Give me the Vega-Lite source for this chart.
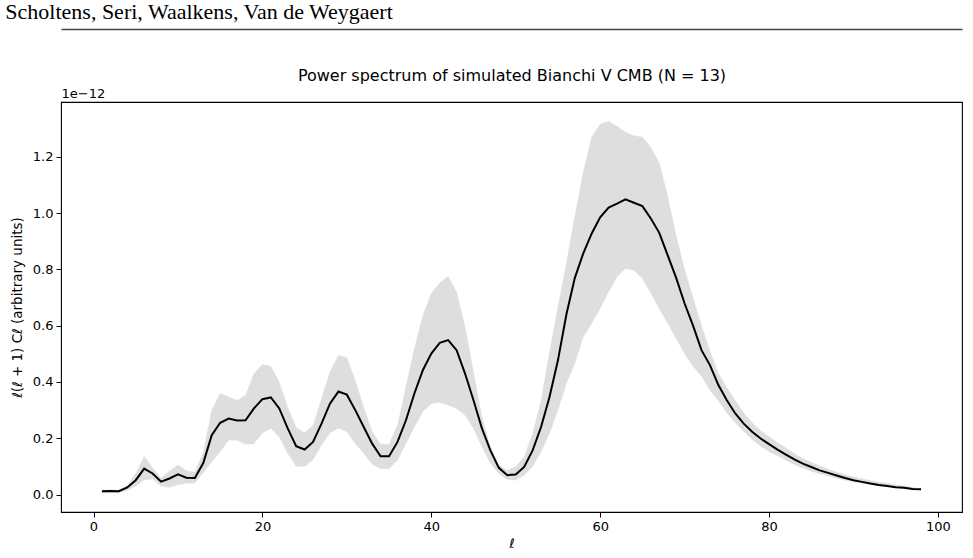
{
  "$schema": "https://vega.github.io/schema/vega-lite/v6.json",
  "width": 901,
  "height": 410,
  "autosize": {"type": "none"},
  "padding": {"left": 61, "top": 102, "right": 11, "bottom": 46},
  "background": "white",
  "config": {
    "view": {"stroke": "black", "strokeWidth": 1.1},
    "font": "DejaVu Sans",
    "axis": {"grid": false, "labelFont": "DejaVu Sans", "titleFont": "DejaVu Sans", "labelColor": "black", "titleColor": "black", "titleFontWeight": "normal"}
  },
  "title": {
    "text": "Scholtens, Seri, Waalkens, Van de Weygaert",
    "anchor": "start",
    "frame": "bounds",
    "font": "Liberation Serif",
    "fontSize": 22,
    "fontWeight": "normal",
    "color": "black",
    "offset": 5,
    "dx": -5
  },
  "data": {
    "values": [
      {"l": 1, "mean": 0.012, "lo": 0.006, "hi": 0.016},
      {"l": 2, "mean": 0.013, "lo": 0.007, "hi": 0.017},
      {"l": 3, "mean": 0.012, "lo": 0.006, "hi": 0.016},
      {"l": 4, "mean": 0.025, "lo": 0.014, "hi": 0.032},
      {"l": 5, "mean": 0.051, "lo": 0.030, "hi": 0.075},
      {"l": 6, "mean": 0.092, "lo": 0.052, "hi": 0.136},
      {"l": 7, "mean": 0.075, "lo": 0.055, "hi": 0.095},
      {"l": 8, "mean": 0.046, "lo": 0.030, "hi": 0.058},
      {"l": 9, "mean": 0.057, "lo": 0.025, "hi": 0.084},
      {"l": 10, "mean": 0.072, "lo": 0.035, "hi": 0.106},
      {"l": 11, "mean": 0.060, "lo": 0.040, "hi": 0.085},
      {"l": 12, "mean": 0.059, "lo": 0.040, "hi": 0.080},
      {"l": 13, "mean": 0.112, "lo": 0.078, "hi": 0.150},
      {"l": 14, "mean": 0.211, "lo": 0.116, "hi": 0.300},
      {"l": 15, "mean": 0.255, "lo": 0.151, "hi": 0.359},
      {"l": 16, "mean": 0.270, "lo": 0.193, "hi": 0.347},
      {"l": 17, "mean": 0.263, "lo": 0.193, "hi": 0.335},
      {"l": 18, "mean": 0.264, "lo": 0.179, "hi": 0.353},
      {"l": 19, "mean": 0.306, "lo": 0.180, "hi": 0.430},
      {"l": 20, "mean": 0.339, "lo": 0.219, "hi": 0.462},
      {"l": 21, "mean": 0.345, "lo": 0.235, "hi": 0.456},
      {"l": 22, "mean": 0.306, "lo": 0.205, "hi": 0.400},
      {"l": 23, "mean": 0.235, "lo": 0.146, "hi": 0.311},
      {"l": 24, "mean": 0.172, "lo": 0.100, "hi": 0.238},
      {"l": 25, "mean": 0.160, "lo": 0.100, "hi": 0.220},
      {"l": 26, "mean": 0.187, "lo": 0.124, "hi": 0.246},
      {"l": 27, "mean": 0.252, "lo": 0.175, "hi": 0.341},
      {"l": 28, "mean": 0.323, "lo": 0.219, "hi": 0.436},
      {"l": 29, "mean": 0.366, "lo": 0.236, "hi": 0.495},
      {"l": 30, "mean": 0.355, "lo": 0.223, "hi": 0.487},
      {"l": 31, "mean": 0.300, "lo": 0.181, "hi": 0.406},
      {"l": 32, "mean": 0.240, "lo": 0.146, "hi": 0.311},
      {"l": 33, "mean": 0.181, "lo": 0.108, "hi": 0.223},
      {"l": 34, "mean": 0.136, "lo": 0.092, "hi": 0.179},
      {"l": 35, "mean": 0.136, "lo": 0.092, "hi": 0.179},
      {"l": 36, "mean": 0.187, "lo": 0.122, "hi": 0.246},
      {"l": 37, "mean": 0.264, "lo": 0.181, "hi": 0.383},
      {"l": 38, "mean": 0.359, "lo": 0.240, "hi": 0.519},
      {"l": 39, "mean": 0.442, "lo": 0.294, "hi": 0.637},
      {"l": 40, "mean": 0.501, "lo": 0.323, "hi": 0.715},
      {"l": 41, "mean": 0.539, "lo": 0.327, "hi": 0.752},
      {"l": 42, "mean": 0.549, "lo": 0.317, "hi": 0.776},
      {"l": 43, "mean": 0.513, "lo": 0.306, "hi": 0.720},
      {"l": 44, "mean": 0.430, "lo": 0.282, "hi": 0.596},
      {"l": 45, "mean": 0.335, "lo": 0.235, "hi": 0.436},
      {"l": 46, "mean": 0.235, "lo": 0.169, "hi": 0.276},
      {"l": 47, "mean": 0.157, "lo": 0.110, "hi": 0.170},
      {"l": 48, "mean": 0.095, "lo": 0.075, "hi": 0.106},
      {"l": 49, "mean": 0.069, "lo": 0.053, "hi": 0.086},
      {"l": 50, "mean": 0.071, "lo": 0.051, "hi": 0.100},
      {"l": 51, "mean": 0.098, "lo": 0.069, "hi": 0.134},
      {"l": 52, "mean": 0.157, "lo": 0.100, "hi": 0.217},
      {"l": 53, "mean": 0.240, "lo": 0.151, "hi": 0.335},
      {"l": 54, "mean": 0.347, "lo": 0.217, "hi": 0.507},
      {"l": 55, "mean": 0.477, "lo": 0.300, "hi": 0.667},
      {"l": 56, "mean": 0.640, "lo": 0.395, "hi": 0.823},
      {"l": 57, "mean": 0.770, "lo": 0.466, "hi": 0.990},
      {"l": 58, "mean": 0.857, "lo": 0.560, "hi": 1.147},
      {"l": 59, "mean": 0.928, "lo": 0.608, "hi": 1.271},
      {"l": 60, "mean": 0.985, "lo": 0.661, "hi": 1.316},
      {"l": 61, "mean": 1.020, "lo": 0.720, "hi": 1.327},
      {"l": 62, "mean": 1.034, "lo": 0.774, "hi": 1.309},
      {"l": 63, "mean": 1.049, "lo": 0.803, "hi": 1.288},
      {"l": 64, "mean": 1.037, "lo": 0.797, "hi": 1.275},
      {"l": 65, "mean": 1.025, "lo": 0.768, "hi": 1.271},
      {"l": 66, "mean": 0.981, "lo": 0.715, "hi": 1.234},
      {"l": 67, "mean": 0.930, "lo": 0.661, "hi": 1.179},
      {"l": 68, "mean": 0.850, "lo": 0.608, "hi": 1.060},
      {"l": 69, "mean": 0.770, "lo": 0.555, "hi": 0.920},
      {"l": 70, "mean": 0.679, "lo": 0.500, "hi": 0.800},
      {"l": 71, "mean": 0.600, "lo": 0.455, "hi": 0.700},
      {"l": 72, "mean": 0.513, "lo": 0.420, "hi": 0.600},
      {"l": 73, "mean": 0.460, "lo": 0.370, "hi": 0.510},
      {"l": 74, "mean": 0.389, "lo": 0.333, "hi": 0.431},
      {"l": 75, "mean": 0.335, "lo": 0.290, "hi": 0.380},
      {"l": 76, "mean": 0.288, "lo": 0.255, "hi": 0.335},
      {"l": 77, "mean": 0.252, "lo": 0.225, "hi": 0.290},
      {"l": 78, "mean": 0.223, "lo": 0.195, "hi": 0.255},
      {"l": 79, "mean": 0.199, "lo": 0.172, "hi": 0.228},
      {"l": 80, "mean": 0.179, "lo": 0.152, "hi": 0.205},
      {"l": 81, "mean": 0.160, "lo": 0.138, "hi": 0.185},
      {"l": 82, "mean": 0.142, "lo": 0.122, "hi": 0.165},
      {"l": 83, "mean": 0.125, "lo": 0.107, "hi": 0.146},
      {"l": 84, "mean": 0.110, "lo": 0.094, "hi": 0.128},
      {"l": 85, "mean": 0.098, "lo": 0.083, "hi": 0.115},
      {"l": 86, "mean": 0.086, "lo": 0.074, "hi": 0.102},
      {"l": 87, "mean": 0.077, "lo": 0.066, "hi": 0.090},
      {"l": 88, "mean": 0.068, "lo": 0.058, "hi": 0.080},
      {"l": 89, "mean": 0.059, "lo": 0.051, "hi": 0.071},
      {"l": 90, "mean": 0.051, "lo": 0.045, "hi": 0.063},
      {"l": 91, "mean": 0.045, "lo": 0.040, "hi": 0.056},
      {"l": 92, "mean": 0.039, "lo": 0.035, "hi": 0.050},
      {"l": 93, "mean": 0.034, "lo": 0.031, "hi": 0.045},
      {"l": 94, "mean": 0.030, "lo": 0.028, "hi": 0.040},
      {"l": 95, "mean": 0.026, "lo": 0.024, "hi": 0.035},
      {"l": 96, "mean": 0.024, "lo": 0.022, "hi": 0.030},
      {"l": 97, "mean": 0.020, "lo": 0.018, "hi": 0.025},
      {"l": 98, "mean": 0.019, "lo": 0.017, "hi": 0.022}
    ]
  },
  "layer": [
    {
      "mark": {"type": "area", "color": "#808080", "opacity": 0.25, "stroke": "#808080", "strokeOpacity": 0.25, "strokeWidth": 1},
      "encoding": {
        "x": {
          "field": "l", "type": "quantitative",
          "scale": {"domain": [-3.85, 102.85], "nice": false, "zero": false},
          "axis": {
            "orient": "top", "offset": 73, "domain": true, "domainColor": "#444444", "domainWidth": 1.5,
            "ticks": false, "labels": false, "grid": false,
            "title": "Power spectrum of simulated Bianchi V CMB (N = 13)",
            "titleX": 450.5, "titleY": 46, "titleAlign": "center", "titleBaseline": "middle",
            "titleFontSize": 16, "titleFontWeight": "normal", "titleColor": "black"
          }
        },
        "y": {
          "field": "lo", "type": "quantitative",
          "scale": {"domain": [-0.062, 1.395], "nice": false, "zero": false},
          "axis": {
            "orient": "right", "domain": false, "ticks": false, "labels": false, "grid": false,
            "title": "1e−12", "titleAngle": 0, "titleX": -901, "titleY": -5,
            "titleAlign": "left", "titleBaseline": "alphabetic", "titleFontSize": 13, "titleFontWeight": "normal"
          }
        },
        "y2": {"field": "hi"}
      }
    },
    {
      "mark": {"type": "line", "color": "black", "strokeWidth": 2},
      "encoding": {
        "x": {
          "field": "l", "type": "quantitative",
          "scale": {"domain": [-3.85, 102.85], "nice": false, "zero": false},
          "axis": {
            "orient": "bottom", "values": [0, 20, 40, 60, 80, 100], "format": "d",
            "domain": false, "ticks": true, "tickSize": 5, "tickColor": "black", "tickWidth": 1,
            "labelFontSize": 13, "labelPadding": 3, "grid": false,
            "title": "ℓ", "titleFontStyle": "italic", "titleFontSize": 13, "titlePadding": 4
          }
        },
        "y": {
          "field": "mean", "type": "quantitative",
          "scale": {"domain": [-0.062, 1.395], "nice": false, "zero": false},
          "axis": {
            "orient": "left", "values": [0, 0.2, 0.4, 0.6, 0.8, 1.0, 1.2], "format": ".1f",
            "domain": false, "ticks": true, "tickSize": 5, "tickColor": "black", "tickWidth": 1,
            "labelFontSize": 13, "labelPadding": 3, "grid": false,
            "title": "ℓ(ℓ + 1) Cℓ (arbitrary units)", "titleFontSize": 13.5, "titlePadding": 8
          }
        }
      }
    }
  ],
  "resolve": {"axis": {"x": "independent", "y": "independent"}}
}
